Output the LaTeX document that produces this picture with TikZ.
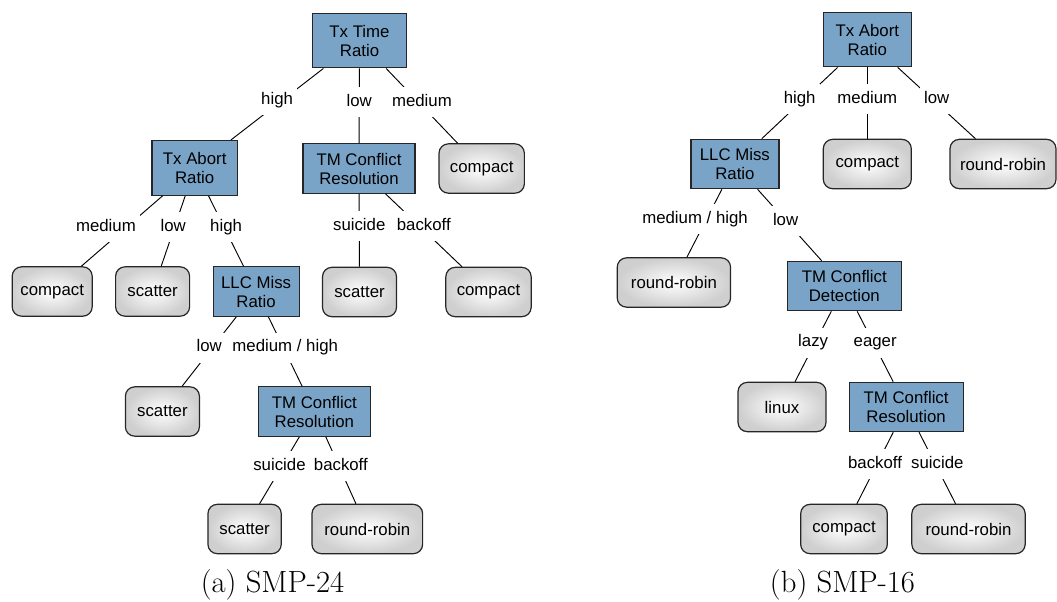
\documentclass[tikz,border=0pt]{standalone}
\usepackage{fontspec}
\newfontfamily\helv{Liberation Sans}
\usepackage{xcolor}

\definecolor{tmblue}{RGB}{122,164,199}
\tikzset{
  boxfont/.style={font=\helv\fontsize{12.6}{14.25}\selectfont},
  decision/.style={boxfont, draw=black!85, line width=0.9pt, fill=tmblue, align=center, inner sep=2pt, minimum height=37pt},
  leaf/.style={boxfont, draw=black!85, line width=0.9pt, rounded corners=7pt, inner color=white, outer color=black!19, minimum height=37pt, minimum width=#1},
  leaf/.default=60pt,
  branch/.style={boxfont, midway, yshift=3pt, fill=white, inner xsep=3pt, inner ysep=5.5pt, text height=9pt, text depth=2.5pt},
  caption/.style={font=\fontsize{23}{26}\selectfont}
}

\begin{document}
\begin{tikzpicture}[x=0.75pt, y=-0.75pt, line width=0.7pt]
  \useasboundingbox (0, 0) rectangle (1057, 601);

  % (a) SMP-24
  \node[decision, minimum width=70.5pt, minimum height=41pt] (a-time) at (359.5, 40.5) {Tx Time\\Ratio};
  \node[decision, minimum width=64pt, minimum height=41pt] (a-abort) at (194.7, 168) {Tx Abort\\Ratio};
  \node[decision, minimum width=84pt] (a-res) at (359, 168.5) {TM Conflict\\Resolution};
  \node[leaf=64pt] (a-compact1) at (481.7, 168.5) {compact};
  \node[leaf=60pt] (a-compact2) at (52.2, 291.5) {compact};
  \node[leaf=55.5pt] (a-scatter1) at (152.6, 291.5) {scatter};
  \node[decision, minimum width=64.5pt] (a-llc) at (256.1, 291.5) {LLC Miss\\Ratio};
  \node[leaf=55.5pt] (a-scatter2) at (359.5, 292) {scatter};
  \node[leaf=64pt] (a-compact3) at (488.5, 292) {compact};
  \node[leaf=55.5pt] (a-scatter3) at (162.4, 411.5) {scatter};
  \node[decision, minimum width=84pt] (a-res2) at (314.4, 411.5) {TM Conflict\\Resolution};
  \node[leaf=55pt] (a-scatter4) at (244.6, 529) {scatter};
  \node[leaf=83pt] (a-rr) at (367.3, 529) {round-robin};
  \node[caption] (a-cap) at (272.5, 585) {(a) SMP-24};

  \draw (a-time) -- node[branch] {high} (a-abort);
  \draw (a-time) -- node[branch] {low} (a-res);
  \draw (a-time) -- node[branch] {medium} (a-compact1);
  \draw (a-abort) -- node[branch, xshift=-12pt] {medium} (a-compact2);
  \draw (a-abort) -- node[branch] {low} (a-scatter1);
  \draw (a-abort) -- node[branch] {high} (a-llc);
  \draw (a-res) -- node[branch] {suicide} (a-scatter2);
  \draw (a-res) -- node[branch] {backoff} (a-compact3);
  \draw (a-llc) -- node[branch] {low} (a-scatter3);
  \draw (a-llc) -- node[branch] {medium / high} (a-res2);
  \draw (a-res2) -- node[branch] {suicide} (a-scatter4);
  \draw (a-res2) -- node[branch] {backoff} (a-rr);

  % (b) SMP-16
  \node[decision, minimum width=66pt, minimum height=41pt] (b-abort) at (867.3, 39.5) {Tx Abort\\Ratio};
  \node[decision, minimum width=66pt] (b-llc) at (734.9, 164) {LLC Miss\\Ratio};
  \node[leaf=66pt] (b-compact1) at (867.3, 164) {compact};
  \node[leaf=79.5pt] (b-rr1) at (1003, 164) {round-robin};
  \node[leaf=85pt] (b-rr2) at (673.9, 282.5) {round-robin};
  \node[decision, minimum width=85.5pt] (b-det) at (844.3, 286) {TM Conflict\\Detection};
  \node[leaf=66pt] (b-linux) at (782, 407) {linux};
  \node[decision, minimum width=85.5pt] (b-res) at (906.1, 407) {TM Conflict\\Resolution};
  \node[leaf=65pt] (b-compact2) at (844, 529) {compact};
  \node[leaf=85pt] (b-rr3) at (968.5, 529) {round-robin};
  \node[caption] (b-cap) at (842.5, 585) {(b) SMP-16};

  \draw (b-abort) -- node[branch] {high} (b-llc);
  \draw (b-abort) -- node[branch] {medium} (b-compact1);
  \draw (b-abort) -- node[branch] {low} (b-rr1);
  \draw (b-llc) -- node[branch, xshift=-7pt] {medium / high} (b-rr2);
  \draw (b-llc) -- node[branch, xshift=-3pt] {low} (b-det);
  \draw (b-det) -- node[branch] {lazy} (b-linux);
  \draw (b-det) -- node[branch] {eager} (b-res);
  \draw (b-res) -- node[branch] {backoff} (b-compact2);
  \draw (b-res) -- node[branch] {suicide} (b-rr3);
\end{tikzpicture}
\end{document}
